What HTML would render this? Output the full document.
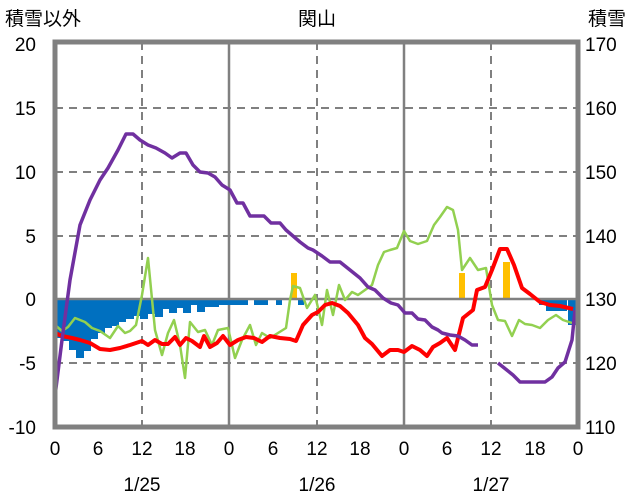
<!DOCTYPE html><html><head><meta charset="utf-8"><style>body{margin:0;background:#fff}svg{display:block}text{font-family:"Liberation Sans","Noto Sans CJK JP",sans-serif;font-size:19px;fill:#000}</style></head><body>
<svg width="636" height="501" xmlns="http://www.w3.org/2000/svg">
<rect width="636" height="501" fill="#fff"/>
<g stroke="#808080" stroke-width="2" stroke-dasharray="8,6" fill="none">
<line x1="55" y1="108" x2="578" y2="108"/><line x1="55" y1="172" x2="578" y2="172"/><line x1="55" y1="236" x2="578" y2="236"/><line x1="55" y1="363" x2="578" y2="363"/>
<line x1="142" y1="42" x2="142" y2="427"/><line x1="317" y1="42" x2="317" y2="427"/><line x1="491" y1="42" x2="491" y2="427"/>
</g>
<g stroke="#808080" stroke-width="2.5"><line x1="229" y1="42" x2="229" y2="427"/><line x1="404" y1="42" x2="404" y2="427"/></g>
<g fill="#0070c0">
<rect x="55" y="299" width="8" height="39"/><rect x="62" y="299" width="8" height="42"/><rect x="69" y="299" width="8" height="51"/><rect x="76" y="299" width="8" height="59"/><rect x="83" y="299" width="8" height="52"/><rect x="90" y="299" width="8" height="40"/><rect x="97" y="299" width="8" height="34"/><rect x="104" y="299" width="8" height="29"/><rect x="111" y="299" width="8" height="27"/><rect x="118" y="299" width="8" height="23"/><rect x="126" y="299" width="8" height="20"/><rect x="133" y="299" width="8" height="17"/><rect x="140" y="299" width="8" height="20"/><rect x="147" y="299" width="8" height="15"/><rect x="155" y="299" width="8" height="18"/><rect x="162" y="299" width="8" height="10"/><rect x="169" y="299" width="8" height="14"/><rect x="176" y="299" width="8" height="9"/><rect x="183" y="299" width="8" height="14"/><rect x="190" y="299" width="8" height="6"/><rect x="197" y="299" width="8" height="13"/><rect x="204" y="299" width="8" height="8"/><rect x="211" y="299" width="8" height="8"/><rect x="218" y="299" width="8" height="6"/><rect x="226" y="299" width="22" height="6"/><rect x="254" y="299" width="14" height="6"/><rect x="276" y="299" width="6" height="6"/><rect x="298" y="299" width="6" height="6"/>
<rect x="539" y="299" width="8" height="6"/><rect x="546" y="299" width="8" height="12"/><rect x="553" y="299" width="14" height="12"/><rect x="568" y="299" width="8" height="26"/>
</g>
<g fill="#ffc000"><rect x="291" y="273" width="6" height="26"/><rect x="459" y="273" width="6" height="26"/><rect x="503" y="262" width="7" height="37"/></g>
<line x1="55" y1="299" x2="578" y2="299" stroke="#808080" stroke-width="2.5"/>
<g fill="none" stroke-linejoin="round">
<polyline stroke="#92d050" stroke-width="2.5" points="55,325 62,331 68,327 75,318 85,322 92,328 100,331 110,338 118,326 125,333 130,331 136,325 142,295 148,258 155,330 162,355 168,333 174,320 180,345 185,378 190,322 198,332 205,330 212,345 218,330 228,328 235,358 242,340 250,325 256,345 262,333 270,338 278,333 286,328 290,300 293,286 300,288 307,308 315,295 322,325 327,290 333,315 339,285 345,300 352,292 358,295 365,290 372,285 378,265 384,252 390,250 397,248 404,231 410,241 418,244 427,241 434,225 440,217 447,207 453,210 458,230 462,270 470,258 478,270 486,268 492,305 498,320 505,321 512,336 519,320 525,324 532,325 540,328 548,320 556,315 563,320 572,323"/>
<polyline stroke="#ff0000" stroke-width="4" points="55,333 62,336 72,338 80,340 90,343 100,349 110,350 120,348 130,345 142,341 148,345 155,340 162,344 168,344 175,337 180,345 186,338 192,341 200,347 204,336 210,347 217,343 223,336 230,345 238,340 246,337 254,338 262,342 270,336 280,338 290,339 296,341 303,325 312,315 318,312 325,305 332,303 340,306 348,313 358,325 365,338 372,344 382,356 390,350 398,350 404,352 412,346 420,350 427,356 433,347 440,343 447,338 455,350 463,318 473,310 477,290 485,287 492,270 500,249 507,249 514,265 522,288 530,294 540,302 550,305 560,306 573,309"/>
<polyline stroke="#7030a0" stroke-width="3.5" points="55,396 62,340 70,280 80,225 90,200 100,180 108,168 118,150 126,134 133,134 140,140 148,145 156,148 165,153 172,158 180,153 186,153 193,165 200,172 208,173 215,177 222,185 230,190 237,203 243,203 250,216 264,216 271,223 280,223 286,230 293,236 300,242 308,248 313,250 322,256 330,262 340,262 350,270 360,278 368,287 375,290 383,298 391,303 398,305 405,313 412,313 418,319 425,320 432,327 438,330 442,333 450,335 458,336 465,340 472,345 478,345"/>
<polyline stroke="#7030a0" stroke-width="3.5" points="498,363 513,375 520,382 545,382 552,377 558,368 565,362 572,340 575,310"/>
</g>
<rect x="55" y="42" width="523" height="385" fill="none" stroke="#808080" stroke-width="5"/>
<g text-anchor="end"><text x="36" y="51">20</text><text x="36" y="115">15</text><text x="36" y="179">10</text><text x="36" y="243">5</text><text x="36" y="306">0</text><text x="36" y="370">-5</text><text x="36" y="434">-10</text></g>
<g text-anchor="start"><text x="585" y="51">170</text><text x="585" y="115">160</text><text x="585" y="179">150</text><text x="585" y="243">140</text><text x="585" y="306">130</text><text x="585" y="370">120</text><text x="585" y="434">110</text></g>
<g text-anchor="middle"><text x="55" y="455">0</text><text x="98" y="455">6</text><text x="142" y="455">12</text><text x="185" y="455">18</text><text x="229" y="455">0</text><text x="273" y="455">6</text><text x="317" y="455">12</text><text x="360" y="455">18</text><text x="404" y="455">0</text><text x="447" y="455">6</text><text x="491" y="455">12</text><text x="535" y="455">18</text><text x="578" y="455">0</text>
<text x="142" y="491">1/25</text><text x="317" y="491">1/26</text><text x="491" y="491">1/27</text>
<text x="317" y="25">関山</text></g>
<text x="5" y="25">積雪以外</text><text x="588" y="25">積雪</text>
</svg></body></html>
